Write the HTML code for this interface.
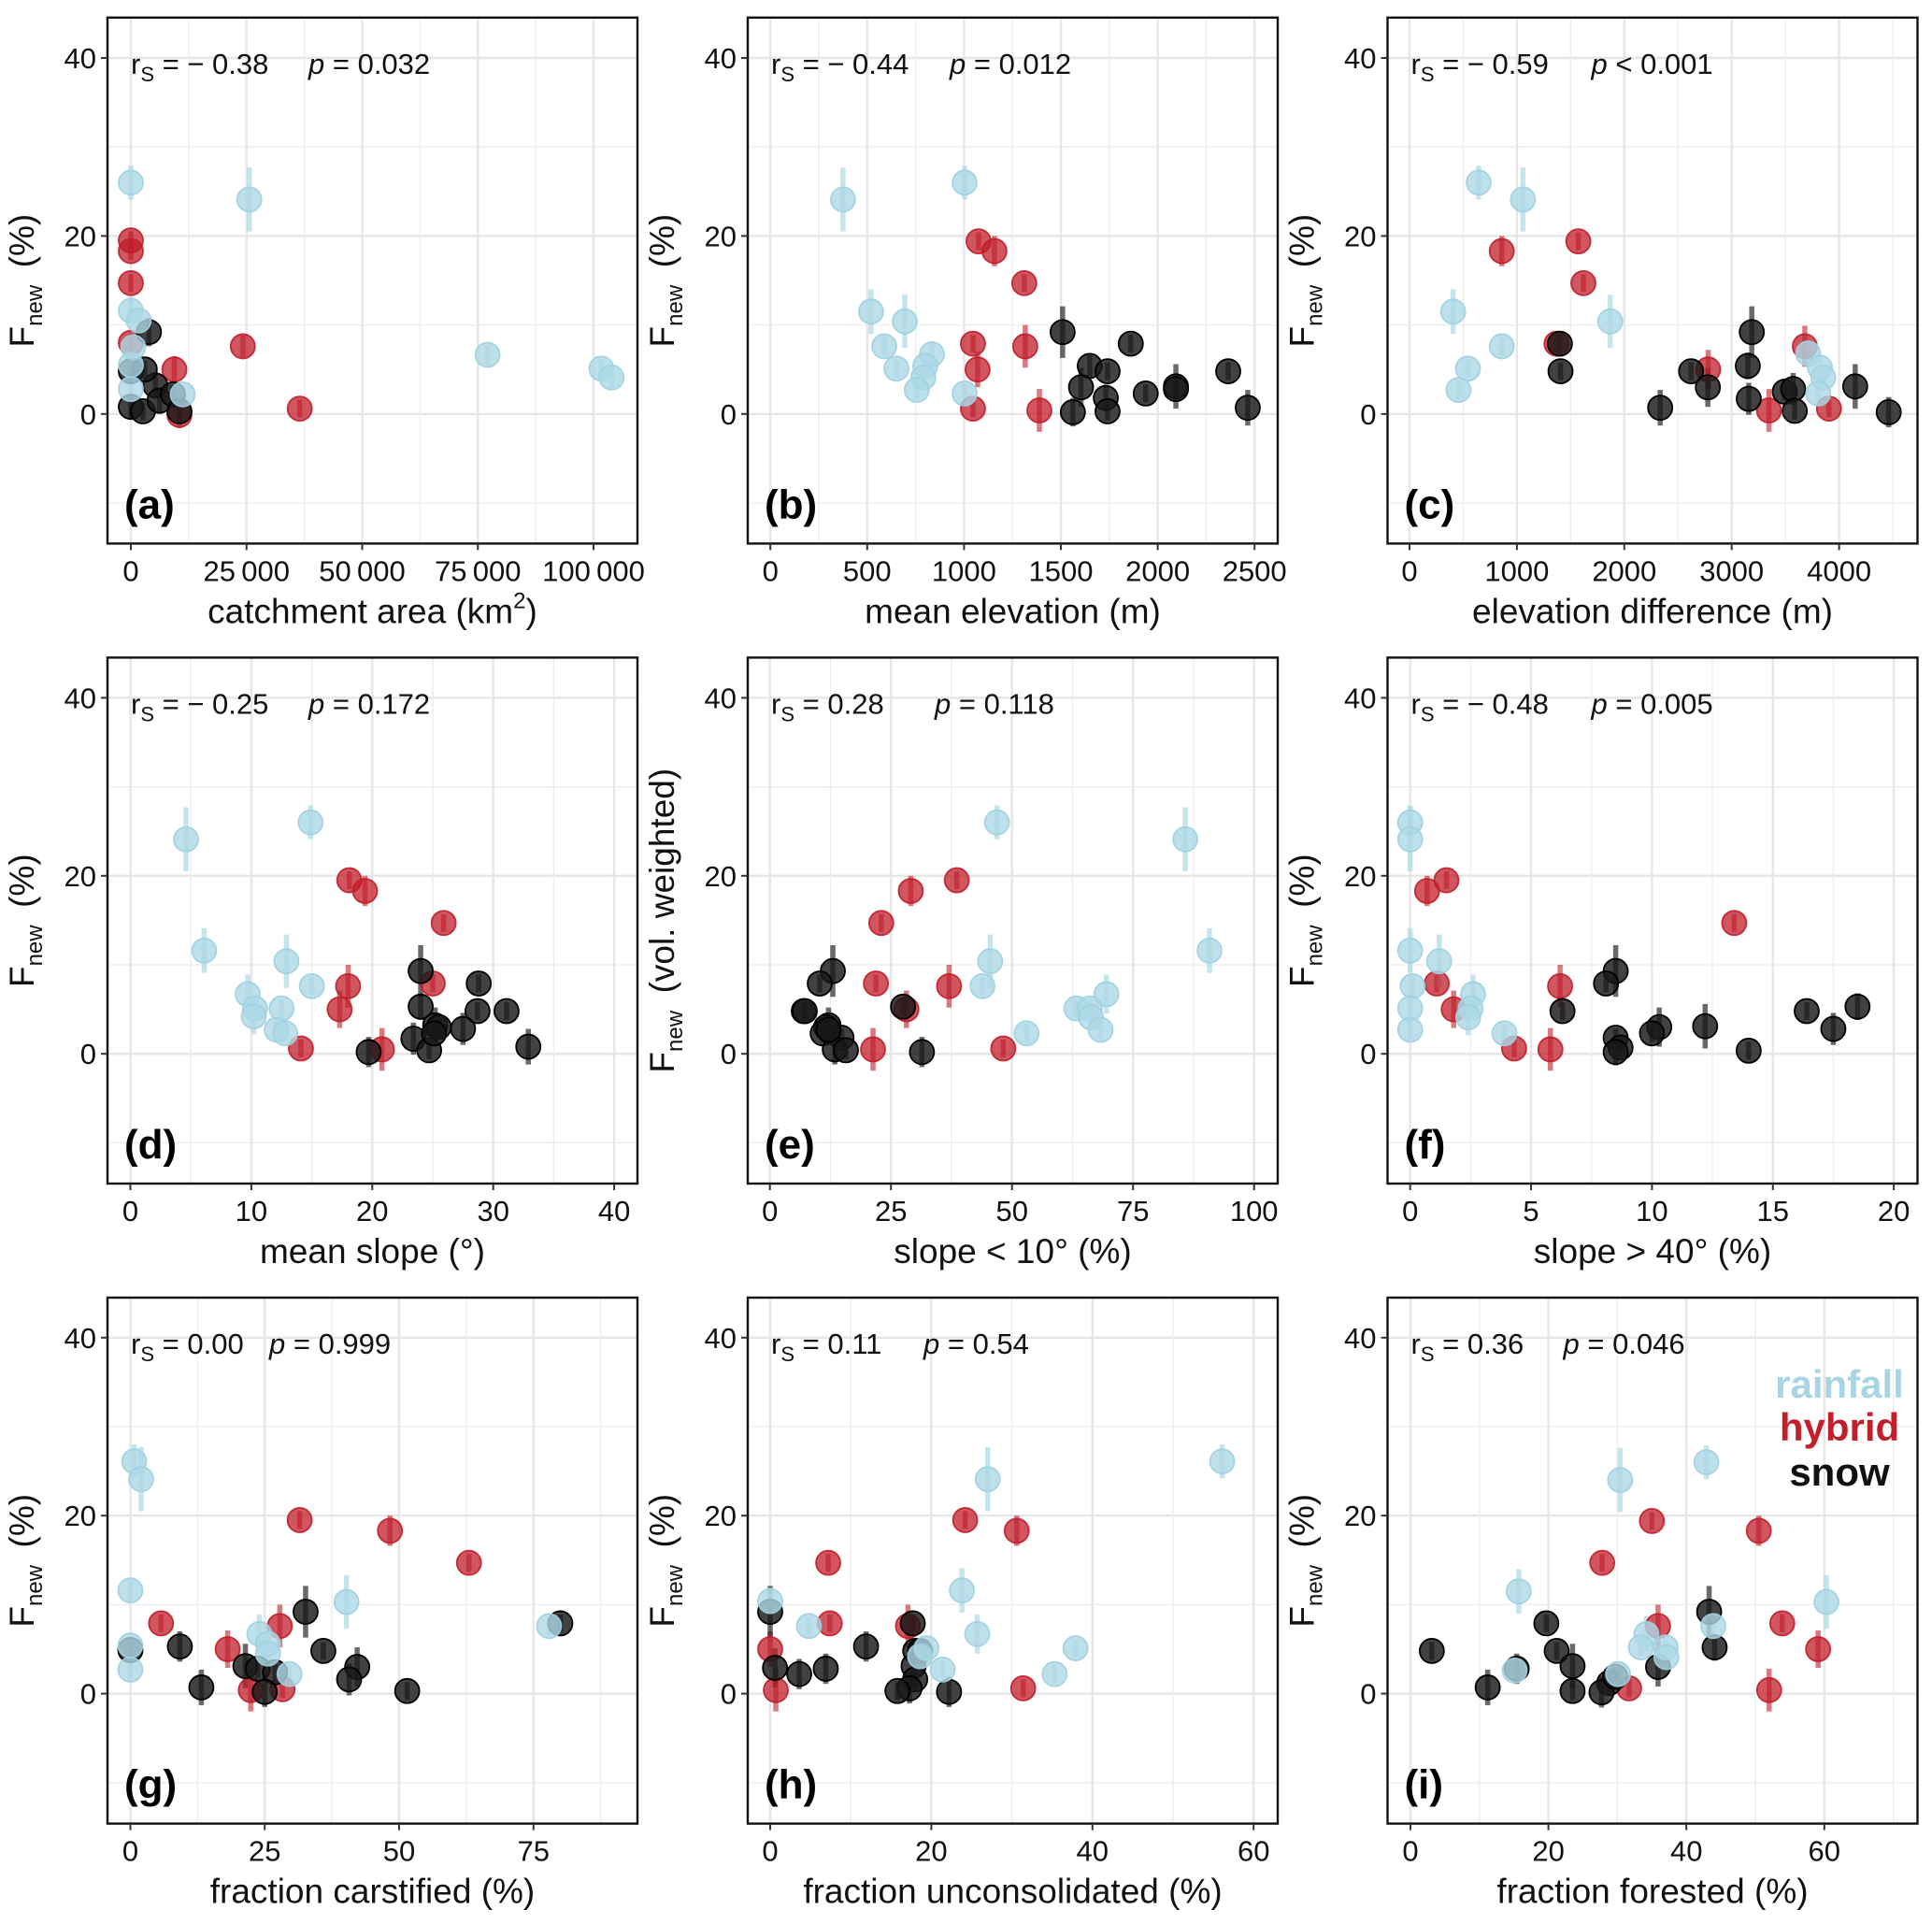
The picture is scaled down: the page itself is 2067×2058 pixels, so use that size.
<!DOCTYPE html>
<html><head><meta charset="utf-8">
<style>
html,body{margin:0;padding:0;background:#fff;}
svg{display:block;font-family:"Liberation Sans",Arial,sans-serif;}
</style></head>
<body>
<svg id="fig" width="2067" height="2058" viewBox="0 0 2067 2058" xmlns="http://www.w3.org/2000/svg"></svg>
<script>
// ---- data: [x, Fnew(%), error half-width] ----
const a_rain=[[0,26.0,1.9],[25600,24.1,3.6],[77100,6.65,1.1],[101700,5.1,1.0],[103900,4.1,1.3],[0,11.6,1.5],[1700,10.5,1.3],[0,2.8,1.0],[11200,2.2,1.0],[0,5.5,1.0],[500,7.5,1.0]];
const a_hyb=[[0,19.5,1.0],[0,18.3,1.0],[0,14.7,1.0],[0,8.0,1.0],[9400,5.0,1.5],[24200,7.6,1.2],[36500,0.6,1.0],[10500,-0.1,1.5]];
const a_snow=[[3900,9.2,1.6],[0,4.8,1.0],[0,0.8,1.3],[2600,0.3,1.0],[5300,3.2,1.5],[6200,1.5,1.5],[9100,2.2,1.0],[10500,0.3,1.0],[3000,5.0,1.0]];

const b_rain=[[375,24.1,3.6],[1003,26.0,1.9],[520,11.5,2.5],[694,10.4,3.0],[588,7.6,1.0],[651,5.1,1.0],[834,6.7,1.5],[800,5.4,1.0],[790,4.1,1.0],[756,2.7,1.0],[1003,2.3,1.0]];
const b_hyb=[[1075,19.4,1.0],[1157,18.3,1.7],[1311,14.7,1.0],[1046,7.9,1.0],[1316,7.6,2.4],[1070,5.0,2.0],[1046,0.6,1.0],[1389,0.4,2.4]];
const b_snow=[[1509,9.2,2.9],[1861,7.9,1.0],[1649,5.4,1.2],[1741,4.8,1.0],[1604,3.0,2.2],[1732,1.8,1.5],[1938,2.3,1.0],[2094,3.1,2.5],[2094,2.8,1.0],[2364,4.8,1.0],[2465,0.7,2.0],[1562,0.2,1.6],[1741,0.3,1.0]];

const c_rain=[[644,26.0,1.9],[1056,24.1,3.6],[406,11.5,2.5],[1869,10.4,3.0],[859,7.6,1.0],[544,5.1,1.0],[456,2.7,1.0],[3712,6.8,1.0],[3822,5.2,1.0],[3853,4.1,1.0],[3806,2.3,1.0]];
const c_hyb=[[859,18.3,1.7],[1572,19.4,1.0],[1619,14.7,1.0],[1369,7.9,1.0],[2781,5.0,2.2],[3681,7.6,2.3],[3347,0.4,2.4],[3906,0.6,1.0]];
const c_snow=[[1400,7.9,1.0],[1406,4.8,1.0],[2334,0.7,2.0],[2622,4.8,1.0],[2778,3.0,2.2],[3187,9.2,2.9],[3150,5.4,1.5],[3159,1.7,1.8],[3494,2.5,1.0],[3572,2.8,1.8],[3587,0.35,1.0],[4150,3.1,2.5],[4462,0.2,1.7]];

const d_rain=[[4.6,24.1,3.6],[14.9,26.0,1.9],[6.1,11.6,2.5],[12.9,10.4,3.0],[15.0,7.6,1.0],[9.7,6.7,2.2],[10.3,5.1,1.0],[10.2,4.2,2.0],[12.5,5.1,1.0],[12.1,2.7,1.0],[12.8,2.3,1.0]];
const d_hyb=[[18.1,19.5,1.0],[19.4,18.3,1.7],[25.9,14.7,1.0],[18.0,7.6,2.4],[17.3,5.0,2.1],[14.1,0.6,1.0],[20.8,0.5,2.4],[25.0,7.9,1.0]];
const d_snow=[[24.0,9.3,2.9],[28.8,7.9,1.0],[24.0,5.3,1.5],[28.7,4.8,1.0],[31.1,4.8,1.0],[25.2,3.2,2.0],[25.5,3.0,1.0],[27.5,2.8,1.8],[23.4,1.7,1.8],[24.7,0.4,1.0],[19.7,0.2,1.7],[32.9,0.8,2.0],[25.1,2.3,1.0]];

const e_rain=[[46.9,26.0,1.9],[85.8,24.1,3.6],[90.8,11.6,2.5],[45.5,10.4,3.0],[43.9,7.6,1.0],[69.5,6.7,2.2],[63.3,5.1,1.0],[66.1,5.1,1.0],[66.3,4.1,1.0],[68.3,2.7,1.0],[53.0,2.3,1.0]];
const e_hyb=[[38.6,19.5,1.0],[29.1,18.3,1.7],[23.0,14.7,1.0],[21.9,7.9,1.0],[37.0,7.6,2.4],[28.2,5.0,2.1],[48.2,0.6,1.0],[21.3,0.5,2.4]];
const e_snow=[[13.0,9.3,2.9],[10.3,7.9,1.0],[7.0,4.8,1.0],[7.2,4.8,1.0],[27.5,5.3,1.0],[12.1,3.2,2.0],[11.6,3.0,1.0],[14.8,1.8,1.0],[10.9,2.3,1.0],[13.4,0.5,1.7],[15.7,0.4,1.0],[31.4,0.2,1.7],[12.1,2.7,1.0]];

const f_rain=[[0,26.0,1.9],[0,24.1,3.6],[0,11.6,2.5],[1.2,10.4,3.0],[0.1,7.6,1.0],[2.6,6.7,2.2],[0,5.1,1.0],[2.5,5.1,1.0],[2.4,4.1,2.0],[0,2.7,1.0],[3.9,2.3,1.0]];
const f_hyb=[[1.5,19.5,1.0],[0.7,18.3,1.7],[13.4,14.7,1.0],[1.1,7.9,1.0],[6.2,7.6,2.4],[1.8,5.0,2.1],[4.3,0.6,1.0],[5.8,0.5,2.4]];
const f_snow=[[8.5,9.3,2.9],[8.1,7.9,1.0],[6.3,4.8,1.0],[16.4,4.8,1.0],[18.5,5.3,1.5],[12.2,3.1,2.5],[10.3,3.0,2.2],[10.0,2.3,1.0],[17.5,2.8,1.8],[8.5,1.8,1.0],[8.7,0.7,1.0],[8.5,0.2,1.5],[14.0,0.35,1.0]];

const g_rain=[[0.7,26.1,1.9],[2.0,24.1,3.6],[0,11.6,1.0],[40.2,10.3,3.0],[77.9,7.6,1.0],[24.0,6.7,2.2],[25.6,5.6,1.0],[25.6,4.5,1.0],[0,5.4,1.0],[0,2.7,1.0],[29.6,2.2,1.0]];
const g_hyb=[[31.5,19.5,1.0],[48.3,18.3,1.7],[63.0,14.7,1.0],[5.7,7.9,1.0],[27.8,7.6,2.4],[18.1,5.0,2.1],[22.4,0.4,2.4],[28.3,0.5,1.0]];
const g_snow=[[32.6,9.2,2.9],[80.0,7.9,1.0],[9.2,5.3,1.7],[35.9,4.8,1.0],[0,4.9,1.0],[21.4,3.1,2.5],[23.7,2.8,1.0],[26.9,2.4,1.0],[42.2,3.0,2.2],[40.7,1.6,1.8],[13.2,0.7,2.0],[25.0,0.2,1.7],[51.5,0.3,1.0]];

const h_rain=[[56.1,26.1,1.9],[27.0,24.1,3.6],[23.8,11.6,2.5],[0,10.4,1.5],[4.8,7.6,1.0],[25.7,6.7,2.2],[37.9,5.1,1.0],[19.4,5.1,1.0],[21.4,2.7,1.0],[35.3,2.2,1.0],[18.6,4.2,1.0]];
const h_hyb=[[24.2,19.5,1.0],[30.6,18.3,1.7],[7.2,14.7,1.0],[7.4,7.9,1.0],[17.1,7.6,2.4],[0,5.0,2.0],[0.7,0.4,2.4],[31.4,0.6,1.0]];
const h_snow=[[0,9.2,2.9],[17.7,7.9,1.0],[11.9,5.3,1.7],[18.0,4.8,1.0],[18.6,4.8,1.0],[0.6,2.9,2.2],[3.6,2.2,1.7],[6.9,2.8,1.7],[17.8,3.1,2.5],[18.0,1.6,1.0],[17.3,0.6,1.7],[15.8,0.3,1.0],[22.2,0.2,1.7]];

const i_rain=[[42.9,26.0,1.9],[30.4,24.0,3.6],[15.7,11.5,2.5],[60.3,10.3,3.0],[43.9,7.6,1.0],[34.2,6.7,2.0],[33.4,5.2,1.0],[37.0,5.2,1.0],[37.1,4.1,1.0],[15.1,2.6,1.0],[30.1,2.2,1.0]];
const i_hyb=[[35.0,19.4,1.0],[50.5,18.3,1.7],[27.8,14.7,1.0],[53.9,7.9,1.0],[35.9,7.6,2.4],[59.1,5.0,2.1],[52.0,0.4,2.4],[31.7,0.6,1.0]];
const i_snow=[[43.3,9.2,2.9],[19.7,7.9,1.0],[3.1,4.8,1.0],[21.2,4.8,1.0],[44.1,5.2,1.5],[23.5,3.1,2.5],[35.9,3.0,2.2],[15.4,2.8,1.7],[28.8,1.2,1.0],[11.2,0.7,2.0],[23.5,0.3,1.0],[27.7,0.15,1.7],[29.7,1.9,1.0]];

// tick values / labels
const yTicks=[0,20,40];
const yMinor=[-10,10,30];
const a_ticks=[0,25000,50000,75000,100000]; const a_labels=["0","25\u2009000","50\u2009000","75\u2009000","100\u2009000"]; const a_minor=[12500,37500,62500,87500];
const b_ticks=[0,500,1000,1500,2000,2500]; const b_labels=["0","500","1000","1500","2000","2500"]; const b_minor=[250,750,1250,1750,2250];
const c_ticks=[0,1000,2000,3000,4000]; const c_labels=["0","1000","2000","3000","4000"]; const c_minor=[500,1500,2500,3500,4500];
const d_ticks=[0,10,20,30,40]; const d_labels=["0","10","20","30","40"]; const d_minor=[5,15,25,35];
const e_ticks=[0,25,50,75,100]; const e_labels=["0","25","50","75","100"]; const e_minor=[12.5,37.5,62.5,87.5];
const f_ticks=[0,5,10,15,20]; const f_labels=["0","5","10","15","20"]; const f_minor=[2.5,7.5,12.5,17.5];
const g_ticks=[0,25,50,75]; const g_labels=["0","25","50","75"]; const g_minor=[12.5,37.5,62.5,87.5];
const h_ticks=[0,20,40,60]; const h_labels=["0","20","40","60"]; const h_minor=[10,30,50];
const i_ticks=[0,20,40,60]; const i_labels=["0","20","40","60"]; const i_minor=[10,30,50,70];

const NS="http://www.w3.org/2000/svg";
const svg=document.getElementById('fig');
function mk(tag,attrs,parent){const e=document.createElementNS(NS,tag);for(const k in attrs)e.setAttribute(k,attrs[k]);(parent||svg).appendChild(e);return e;}

const colL=[115,800,1484.5], rowT=[18.8,703.4,1388], W=567, H=562.6;
const y0Row=[442.8,1127.2,1811.6], yK=9.52;

const panels=[
 {id:'a',c:0,r:0,x0:140,k:0.00495,ticks:a_ticks,labels:a_labels,minor:a_minor,rain:a_rain,hyb:a_hyb,snow:a_snow,xt:'catchment area (km',sup:true,yt:'(%)',rs:'= \u2212 0.38',p:'= 0.032',px:215},
 {id:'b',c:1,r:0,x0:824.2,k:0.2072,ticks:b_ticks,labels:b_labels,minor:b_minor,rain:b_rain,hyb:b_hyb,snow:b_snow,xt:'mean elevation (m)',yt:'(%)',rs:'= \u2212 0.44',p:'= 0.012',px:216},
 {id:'c',c:2,r:0,x0:1508,k:0.1149,ticks:c_ticks,labels:c_labels,minor:c_minor,rain:c_rain,hyb:c_hyb,snow:c_snow,xt:'elevation difference (m)',yt:'(%)',rs:'= \u2212 0.59',p:'< 0.001',px:218},
 {id:'d',c:0,r:1,x0:139.5,k:12.94,ticks:d_ticks,labels:d_labels,minor:d_minor,rain:d_rain,hyb:d_hyb,snow:d_snow,xt:'mean slope (\u00b0)',yt:'(%)',rs:'= \u2212 0.25',p:'= 0.172',px:215},
 {id:'e',c:1,r:1,x0:823.7,k:5.18,ticks:e_ticks,labels:e_labels,minor:e_minor,rain:e_rain,hyb:e_hyb,snow:e_snow,xt:'slope < 10\u00b0 (%)',yt:'(vol. weighted)',rs:'= 0.28',p:'= 0.118',px:200},
 {id:'f',c:2,r:1,x0:1508.7,k:25.87,ticks:f_ticks,labels:f_labels,minor:f_minor,rain:f_rain,hyb:f_hyb,snow:f_snow,xt:'slope > 40\u00b0 (%)',yt:'(%)',rs:'= \u2212 0.48',p:'= 0.005',px:218},
 {id:'g',c:0,r:2,x0:139.5,k:5.75,ticks:g_ticks,labels:g_labels,minor:g_minor,rain:g_rain,hyb:g_hyb,snow:g_snow,xt:'fraction carstified (%)',yt:'(%)',rs:'= 0.00',p:'= 0.999',px:173},
 {id:'h',c:1,r:2,x0:824,k:8.62,ticks:h_ticks,labels:h_labels,minor:h_minor,rain:h_rain,hyb:h_hyb,snow:h_snow,xt:'fraction unconsolidated (%)',yt:'(%)',rs:'= 0.11',p:'= 0.54',px:188},
 {id:'i',c:2,r:2,x0:1509,k:7.38,ticks:i_ticks,labels:i_labels,minor:i_minor,rain:i_rain,hyb:i_hyb,snow:i_snow,xt:'fraction forested (%)',yt:'(%)',rs:'= 0.36',p:'= 0.046',px:188}
];

const styles={
 rain:{fill:'rgba(173,216,230,0.8)',stroke:'rgba(160,208,224,0.9)',bar:'rgba(173,216,230,0.7)'},
 hyb:{fill:'rgba(192,30,42,0.75)',stroke:'rgba(192,30,42,0.9)',bar:'rgba(192,30,42,0.6)'},
 snow:{fill:'rgba(25,25,25,0.82)',stroke:'#000',bar:'rgba(25,25,25,0.65)'}
};

panels.forEach(P=>{
  const L=colL[P.c], T=rowT[P.r], R=L+W, B=T+H, Y0=y0Row[P.r];
  const sx=v=>P.x0+v*P.k, sy=v=>Y0-v*yK;
  const g=mk('g',{});
  
  
  const clipId='clip'+P.id;
  const cp=mk('clipPath',{id:clipId},g); mk('rect',{x:L,y:T,width:W,height:H},cp);
  // gridlines
  const grid=mk('g',{'clip-path':'url(#'+clipId+')'},g);
  
  
  yMinor.forEach(v=>mk('line',{x1:L,x2:R,y1:sy(v),y2:sy(v),stroke:'#ececec','stroke-width':1.3},grid));
  yTicks.forEach(v=>mk('line',{x1:L,x2:R,y1:sy(v),y2:sy(v),stroke:'#e6e6e6','stroke-width':2.4},grid));
  P.minor.forEach(v=>mk('line',{x1:sx(v),x2:sx(v),y1:T,y2:B,stroke:'#ececec','stroke-width':1.3},grid));
  P.ticks.forEach(v=>mk('line',{x1:sx(v),x2:sx(v),y1:T,y2:B,stroke:'#e6e6e6','stroke-width':2.4},grid));
  // points
  const pts=mk('g',{'clip-path':'url(#'+clipId+')'},g);
  ['hyb','snow','rain'].forEach(s=>{
    const st=styles[s];
    P[s].forEach(d=>{
      const bar=mk('line',{x1:sx(d[0]),x2:sx(d[0]),y1:sy(d[1]-d[2]),y2:sy(d[1]+d[2]),stroke:st.bar,'stroke-width':5.5},pts);
      
      
    });
  });
  ['hyb','snow','rain'].forEach(s=>{
    const st=styles[s];
    P[s].forEach(d=>{
      const c=mk('circle',{cx:sx(d[0]),cy:sy(d[1]),r:13,fill:st.fill,stroke:st.stroke,'stroke-width':1.8},pts);
      
      
    });
  });
  // border
  const bd=mk('rect',{x:L,y:T,width:W,height:H,fill:'none',stroke:'#111','stroke-width':2.4},g);
  
  
  // y ticks
  yTicks.forEach(v=>{
    mk('line',{x1:L-7,x2:L,y1:sy(v),y2:sy(v),stroke:'#333','stroke-width':2},g);
    const t=mk('text',{x:L-12,y:sy(v)+11,'text-anchor':'end','font-size':31,fill:'#111'},g);
    t.textContent=String(v);
    
    
  });
  // x ticks
  P.ticks.forEach((v,j)=>{
    mk('line',{x1:sx(v),x2:sx(v),y1:B,y2:B+7,stroke:'#333','stroke-width':2},g);
    const t=mk('text',{x:sx(v),y:B+40,'text-anchor':'middle','font-size':31,fill:'#111'},g);
    t.textContent=P.labels[j];
    
    
  });
  // x title
  const xt=mk('text',{x:(L+R)/2,y:B+85,'text-anchor':'middle','font-size':37,fill:'#111'},g);
  
  
  if(P.sup){xt.appendChild(document.createTextNode(P.xt));const s=mk('tspan',{'font-size':24,dy:-16},xt);s.textContent='2';const s2=mk('tspan',{dy:16},xt);s2.textContent=')';}
  else xt.textContent=P.xt;
  // y title
  const cx=L-79, cy=(T+B)/2;
  const yt=mk('text',{x:cx,y:cy,'text-anchor':'middle','font-size':37,fill:'#111',transform:'rotate(-90 '+cx+' '+cy+')'},g);
  
  
  const t1=mk('tspan',{},yt); t1.textContent='F';
  const t2=mk('tspan',{'font-size':24,dy:9},yt); t2.textContent='new';
  const t3=mk('tspan',{dy:-9},yt); t3.textContent='\u2002'+P.yt;
  // stats
  const st=mk('text',{x:L+25,y:T+60,'font-size':31,fill:'#111'},g);
  
  
  const s1=mk('tspan',{},st); s1.textContent='r';
  const s2=mk('tspan',{'font-size':22,dy:8},st); s2.textContent='S';
  const s3=mk('tspan',{dy:-8},st); s3.textContent=' '+P.rs;
  const pt=mk('text',{x:L+P.px,y:T+60,'font-size':31,fill:'#111'},g);
  
  
  const p1=mk('tspan',{'font-style':'italic'},pt); p1.textContent='p';
  const p2=mk('tspan',{},pt); p2.textContent=' '+P.p;
  // letter
  const lt=mk('text',{x:L+18,y:B-27,'font-size':44,'font-weight':'bold',fill:'#000'},g);
  lt.textContent='('+P.id+')';
  
  
});

// legend
const leg=mk('g',{});


[['rainfall','#a8d5e3',1495],['hybrid','#c1202b',1541],['snow','#111',1589]].forEach(e=>{
  const t=mk('text',{x:1968,y:e[2],'text-anchor':'middle','font-size':42,'font-weight':'bold',fill:e[1]},leg);
  t.textContent=e[0];
  
  
});
</script>
</body></html>
